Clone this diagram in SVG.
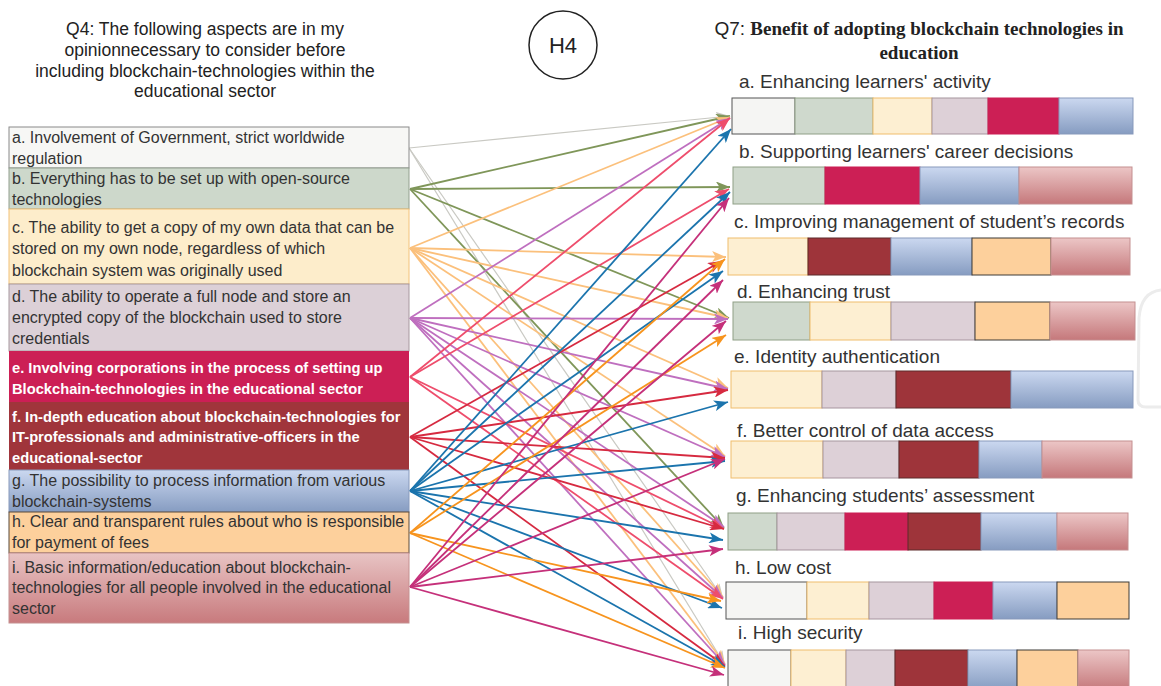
<svg xmlns="http://www.w3.org/2000/svg" width="1161" height="686" viewBox="0 0 1161 686">
<defs>
<linearGradient id="gBlue" x1="0" y1="0" x2="0" y2="1"><stop offset="0" stop-color="#cbd8f0"/><stop offset="1" stop-color="#869cc1"/></linearGradient>
<linearGradient id="gPink" x1="0" y1="0" x2="0" y2="1"><stop offset="0" stop-color="#ecc6c6"/><stop offset="1" stop-color="#c5787b"/></linearGradient>
<linearGradient id="gPinkL" x1="0" y1="0" x2="0" y2="1"><stop offset="0" stop-color="#e8c4c4"/><stop offset="1" stop-color="#c87a7d"/></linearGradient>
<marker id="ma" markerUnits="userSpaceOnUse" markerWidth="15" markerHeight="11" refX="14" refY="5.5" orient="auto"><path d="M0,0 L14,5.5 L0,11 L3.5,5.5 Z" fill="#c9c9c3"/></marker>
<marker id="mb" markerUnits="userSpaceOnUse" markerWidth="15" markerHeight="11" refX="14" refY="5.5" orient="auto"><path d="M0,0 L14,5.5 L0,11 L3.5,5.5 Z" fill="#7f9659"/></marker>
<marker id="mc" markerUnits="userSpaceOnUse" markerWidth="15" markerHeight="11" refX="14" refY="5.5" orient="auto"><path d="M0,0 L14,5.5 L0,11 L3.5,5.5 Z" fill="#fbc07c"/></marker>
<marker id="md" markerUnits="userSpaceOnUse" markerWidth="15" markerHeight="11" refX="14" refY="5.5" orient="auto"><path d="M0,0 L14,5.5 L0,11 L3.5,5.5 Z" fill="#bf6fbf"/></marker>
<marker id="me" markerUnits="userSpaceOnUse" markerWidth="15" markerHeight="11" refX="14" refY="5.5" orient="auto"><path d="M0,0 L14,5.5 L0,11 L3.5,5.5 Z" fill="#ee4d6c"/></marker>
<marker id="mf" markerUnits="userSpaceOnUse" markerWidth="15" markerHeight="11" refX="14" refY="5.5" orient="auto"><path d="M0,0 L14,5.5 L0,11 L3.5,5.5 Z" fill="#d62a40"/></marker>
<marker id="mg" markerUnits="userSpaceOnUse" markerWidth="15" markerHeight="11" refX="14" refY="5.5" orient="auto"><path d="M0,0 L14,5.5 L0,11 L3.5,5.5 Z" fill="#1b74ad"/></marker>
<marker id="mh" markerUnits="userSpaceOnUse" markerWidth="15" markerHeight="11" refX="14" refY="5.5" orient="auto"><path d="M0,0 L14,5.5 L0,11 L3.5,5.5 Z" fill="#f7941e"/></marker>
<marker id="mi" markerUnits="userSpaceOnUse" markerWidth="15" markerHeight="11" refX="14" refY="5.5" orient="auto"><path d="M0,0 L14,5.5 L0,11 L3.5,5.5 Z" fill="#c5307a"/></marker>
</defs>
<style>
text{font-family:"Liberation Sans",Arial,sans-serif}
.lt{font-size:16px;fill:#333}
.lw{font-size:14.7px;font-weight:bold;fill:#fff}
.hd{font-size:17.5px;fill:#222;text-anchor:middle}
.rl{font-size:19px;fill:#333}
.serif{font-family:"Liberation Serif","Times New Roman",serif;font-weight:bold}
.wh{fill:#f5f5f3;stroke:#555;stroke-width:1}
.gr{fill:#cfd9cd;stroke:#8f9f86;stroke-width:1}
.ye{fill:#fdefd2;stroke:#f0bd6c;stroke-width:1}
.la{fill:#ddd0d7;stroke:#a6959e;stroke-width:1}
.cr{fill:#cc1f55;stroke:#cc1f55;stroke-width:1}
.dr{fill:#9e343a;stroke:#5c2a2a;stroke-width:1}
.bl{fill:url(#gBlue);stroke:#8799bb;stroke-width:1}
.or{fill:#fdd09c;stroke:#3d3a36;stroke-width:1}
.pk{fill:url(#gPink);stroke:#c48f90;stroke-width:1}
.c{fill:none;stroke-width:1.8}
.ca{stroke:#c9c9c3;stroke-width:1.2;marker-end:url(#ma)}
.cb{stroke:#7f9659;marker-end:url(#mb)}
.cc{stroke:#fbc07c;marker-end:url(#mc)}
.cd{stroke:#bf6fbf;marker-end:url(#md)}
.ce{stroke:#ee4d6c;marker-end:url(#me)}
.cf{stroke:#d62a40;marker-end:url(#mf)}
.cg{stroke:#1b74ad;marker-end:url(#mg)}
.ch{stroke:#f7941e;marker-end:url(#mh)}
.ci{stroke:#c5307a;marker-end:url(#mi)}
</style>
<rect x="0" y="0" width="1161" height="686" fill="#ffffff"/>
<path d="M1161,290 Q1141,292 1139,318 L1138,400 Q1138,407 1146,407 L1161,407" fill="none" stroke="#ececec" stroke-width="3"/>

<g id="header-q4">
<text class="hd" x="205" y="35">Q4: The following aspects are in my</text>
<text class="hd" x="205" y="56">opinionnecessary to consider before</text>
<text class="hd" x="205" y="77">including blockchain-technologies within the</text>
<text class="hd" x="205" y="97">educational sector</text>
</g>
<g id="h4">
<circle cx="563" cy="45" r="34" fill="#fff" stroke="#222" stroke-width="1.5"/>
<text x="563" y="53" font-size="22" fill="#222" text-anchor="middle">H4</text>
</g>
<g id="header-q7">
<text x="919" y="35" text-anchor="middle" fill="#222" font-size="19"><tspan>Q7: </tspan><tspan class="serif">Benefit of adopting blockchain technologies in</tspan></text>
<text x="919" y="59" text-anchor="middle" fill="#222" font-size="19" class="serif">education</text>
</g>

<g id="connectors">
<line class="c ca" x1="409" y1="148" x2="730" y2="116"/>
<line class="c ca" x1="409" y1="148" x2="723" y2="598"/>
<line class="c ca" x1="409" y1="148" x2="725" y2="665"/>
<line class="c cb" x1="410" y1="189" x2="730" y2="116"/>
<line class="c cb" x1="410" y1="189" x2="730" y2="187"/>
<line class="c cb" x1="410" y1="189" x2="729" y2="318"/>
<line class="c cb" x1="410" y1="189" x2="724" y2="528"/>
<line class="c cc" x1="410" y1="248" x2="730" y2="117"/>
<line class="c cc" x1="410" y1="248" x2="726" y2="257"/>
<line class="c cc" x1="410" y1="248" x2="728" y2="318"/>
<line class="c cc" x1="410" y1="248" x2="728" y2="388"/>
<line class="c cc" x1="410" y1="248" x2="725" y2="456"/>
<line class="c cc" x1="410" y1="248" x2="723" y2="597"/>
<line class="c cc" x1="410" y1="248" x2="725" y2="664"/>
<line class="c cd" x1="410" y1="318" x2="730" y2="118"/>
<line class="c cd" x1="410" y1="318" x2="728" y2="319"/>
<line class="c cd" x1="410" y1="318" x2="728" y2="389"/>
<line class="c cd" x1="410" y1="318" x2="725" y2="457"/>
<line class="c cd" x1="410" y1="318" x2="724" y2="527"/>
<line class="c cd" x1="410" y1="318" x2="723" y2="598"/>
<line class="c cd" x1="410" y1="318" x2="725" y2="665"/>
<line class="c ce" x1="410" y1="377" x2="730" y2="118"/>
<line class="c ce" x1="410" y1="377" x2="729" y2="189"/>
<line class="c ce" x1="410" y1="377" x2="724" y2="529"/>
<line class="c ce" x1="410" y1="377" x2="723" y2="599"/>
<line class="c cf" x1="410" y1="437" x2="722" y2="261"/>
<line class="c cf" x1="410" y1="437" x2="728" y2="390"/>
<line class="c cf" x1="410" y1="437" x2="725" y2="458"/>
<line class="c cf" x1="410" y1="437" x2="724" y2="529"/>
<line class="c cf" x1="410" y1="437" x2="725" y2="666"/>
<line class="c cg" x1="410" y1="491" x2="731" y2="129"/>
<line class="c cg" x1="410" y1="491" x2="730" y2="192"/>
<line class="c cg" x1="410" y1="491" x2="723" y2="271"/>
<line class="c cg" x1="410" y1="491" x2="728" y2="402"/>
<line class="c cg" x1="410" y1="491" x2="725" y2="461"/>
<line class="c cg" x1="410" y1="491" x2="723" y2="540"/>
<line class="c cg" x1="410" y1="491" x2="722" y2="608"/>
<line class="c cg" x1="410" y1="491" x2="725" y2="667"/>
<line class="c ch" x1="410" y1="533" x2="725" y2="259"/>
<line class="c ch" x1="410" y1="533" x2="726" y2="335"/>
<line class="c ch" x1="410" y1="533" x2="721" y2="601"/>
<line class="c ch" x1="410" y1="533" x2="725" y2="668"/>
<line class="c ci" x1="410" y1="587" x2="729" y2="198"/>
<line class="c ci" x1="410" y1="587" x2="723" y2="280"/>
<line class="c ci" x1="410" y1="587" x2="726" y2="321"/>
<line class="c ci" x1="410" y1="587" x2="725" y2="459"/>
<line class="c ci" x1="410" y1="587" x2="723" y2="549"/>
<line class="c ci" x1="410" y1="587" x2="724" y2="675"/>
</g>

<g id="node-q4-a">
<rect x="9" y="127" width="400" height="41" fill="#f7f7f5" stroke="#8a8a8a" stroke-width="1"/>
<text class="lt" x="12" y="143">a. Involvement of Government, strict worldwide</text>
<text class="lt" x="12" y="164">regulation</text>
</g>
<g id="node-q4-b">
<rect x="9" y="168" width="400" height="41" fill="#cdd8cb" stroke="#93a08f" stroke-width="1"/>
<text class="lt" x="12" y="184">b. Everything has to be set up with open-source</text>
<text class="lt" x="12" y="205">technologies</text>
</g>
<g id="node-q4-c">
<rect x="9" y="209" width="400" height="75" fill="#fdedcb" stroke="#f2c27a" stroke-width="1"/>
<text class="lt" x="12" y="233">c. The ability to get a copy of my own data that can be</text>
<text class="lt" x="12" y="254">stored on my own node, regardless of which</text>
<text class="lt" x="12" y="276">blockchain system was originally used</text>
</g>
<g id="node-q4-d">
<rect x="9" y="284" width="400" height="67" fill="#dcd0d7" stroke="#a8999f" stroke-width="1"/>
<text class="lt" x="12" y="302">d. The ability to operate a full node and store an</text>
<text class="lt" x="12" y="323">encrypted copy of the blockchain used to store</text>
<text class="lt" x="12" y="344">credentials</text>
</g>
<g id="node-q4-e">
<rect x="9" y="351" width="400" height="51" fill="#cc1f55"/>
<text class="lw" x="12" y="373">e. Involving corporations in the process of setting up</text>
<text class="lw" x="12" y="394">Blockchain-technologies in the educational sector</text>
</g>
<g id="node-q4-f">
<rect x="9" y="402" width="400" height="68" fill="#a0353b"/>
<text class="lw" x="12" y="422">f. In-depth education about blockchain-technologies for</text>
<text class="lw" x="12" y="442">IT-professionals and administrative-officers in the</text>
<text class="lw" x="12" y="463">educational-sector</text>
</g>
<g id="node-q4-g">
<rect x="9" y="470" width="400" height="42" fill="url(#gBlue)" stroke="#8799bb" stroke-width="1"/>
<text class="lt" x="12" y="486">g. The possibility to process information from various</text>
<text class="lt" x="12" y="507">blockchain-systems</text>
</g>
<g id="node-q4-h">
<rect x="9" y="512" width="400" height="41" fill="#fdd09c" stroke="#5a4a3a" stroke-width="1"/>
<text class="lt" x="12" y="527">h. Clear and transparent rules about who is responsible</text>
<text class="lt" x="12" y="548">for payment of fees</text>
</g>
<g id="node-q4-i">
<rect x="9" y="553" width="400" height="70" fill="url(#gPinkL)" stroke="#c49090" stroke-width="1"/>
<text class="lt" x="12" y="573">i. Basic information/education about blockchain-</text>
<text class="lt" x="12" y="593">technologies for all people involved in the educational</text>
<text class="lt" x="12" y="614">sector</text>
</g>

<g id="node-q7-a">
<text class="rl" x="739" y="88">a. Enhancing learners' activity</text>
<rect class="wh" x="732" y="98" width="63" height="36"/>
<rect class="gr" x="795" y="98" width="78" height="36"/>
<rect class="ye" x="873" y="98" width="59" height="36"/>
<rect class="la" x="932" y="98" width="56" height="36"/>
<rect class="cr" x="988" y="98" width="71" height="36"/>
<rect class="bl" x="1059" y="98" width="74" height="36"/>
</g>
<g id="node-q7-b">
<text class="rl" x="739" y="158">b. Supporting learners' career decisions</text>
<rect class="gr" x="733" y="167" width="92" height="37"/>
<rect class="cr" x="825" y="167" width="95" height="37"/>
<rect class="bl" x="920" y="167" width="99" height="37"/>
<rect class="pk" x="1019" y="167" width="113" height="37"/>
</g>
<g id="node-q7-c">
<text class="rl" x="734" y="228">c. Improving management of student’s records</text>
<rect class="ye" x="728" y="238" width="80" height="37"/>
<rect class="dr" x="808" y="238" width="83" height="37"/>
<rect class="bl" x="891" y="238" width="81" height="37"/>
<rect class="or" x="972" y="238" width="79" height="37"/>
<rect class="pk" x="1051" y="238" width="79" height="37"/>
</g>
<g id="node-q7-d">
<text class="rl" x="737" y="298">d. Enhancing trust</text>
<rect class="gr" x="733" y="302" width="77" height="38"/>
<rect class="ye" x="810" y="302" width="81" height="38"/>
<rect class="la" x="891" y="302" width="84" height="38"/>
<rect class="or" x="975" y="302" width="75" height="38"/>
<rect class="pk" x="1050" y="302" width="85" height="38"/>
</g>
<g id="node-q7-e">
<text class="rl" x="734" y="363">e. Identity authentication</text>
<rect class="ye" x="731" y="371" width="91" height="37"/>
<rect class="la" x="822" y="371" width="74" height="37"/>
<rect class="dr" x="896" y="371" width="115" height="37"/>
<rect class="bl" x="1011" y="371" width="122" height="37"/>
</g>
<g id="node-q7-f">
<text class="rl" x="737" y="437">f. Better control of data access</text>
<rect class="ye" x="731" y="441" width="92" height="37"/>
<rect class="la" x="823" y="441" width="76" height="37"/>
<rect class="dr" x="899" y="441" width="80" height="37"/>
<rect class="bl" x="979" y="441" width="63" height="37"/>
<rect class="pk" x="1042" y="441" width="90" height="37"/>
</g>
<g id="node-q7-g">
<text class="rl" x="736" y="502">g. Enhancing students’ assessment</text>
<rect class="gr" x="728" y="513" width="49" height="37"/>
<rect class="la" x="777" y="513" width="68" height="37"/>
<rect class="cr" x="845" y="513" width="63" height="37"/>
<rect class="dr" x="908" y="513" width="73" height="37"/>
<rect class="bl" x="981" y="513" width="76" height="37"/>
<rect class="pk" x="1057" y="513" width="71" height="37"/>
</g>
<g id="node-q7-h">
<text class="rl" x="735" y="574">h. Low cost</text>
<rect class="wh" x="726" y="582" width="81" height="37"/>
<rect class="ye" x="807" y="582" width="62" height="37"/>
<rect class="la" x="869" y="582" width="65" height="37"/>
<rect class="cr" x="934" y="582" width="59" height="37"/>
<rect class="bl" x="993" y="582" width="64" height="37"/>
<rect class="or" x="1057" y="582" width="72" height="37"/>
</g>
<g id="node-q7-i">
<text class="rl" x="738" y="639">i. High security</text>
<rect class="wh" x="728" y="650" width="63" height="40"/>
<rect class="ye" x="791" y="650" width="55" height="40"/>
<rect class="la" x="846" y="650" width="49" height="40"/>
<rect class="dr" x="895" y="650" width="73" height="40"/>
<rect class="bl" x="968" y="650" width="49" height="40"/>
<rect class="or" x="1017" y="650" width="61" height="40"/>
<rect class="pk" x="1078" y="650" width="51" height="40"/>
</g>
</svg>
